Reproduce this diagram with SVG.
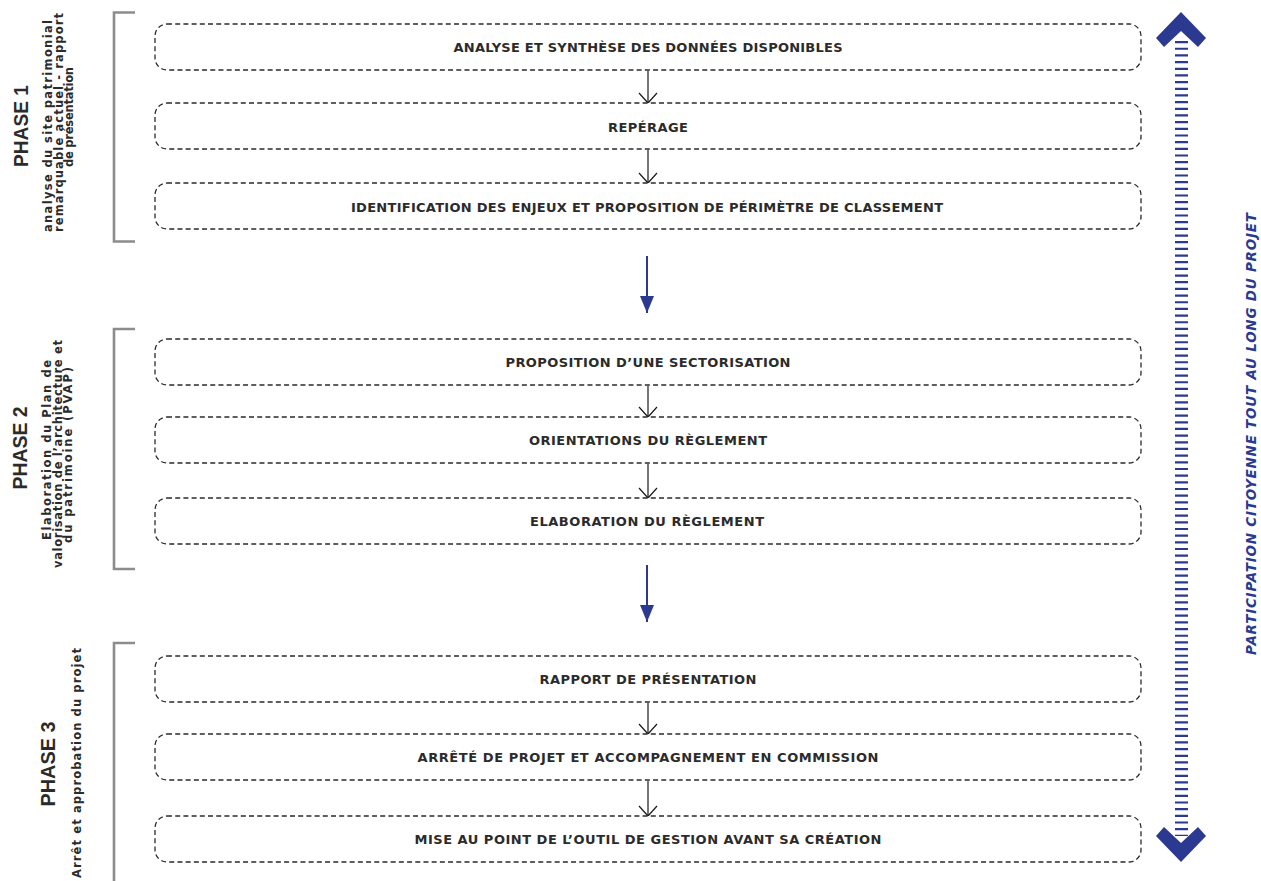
<svg xmlns="http://www.w3.org/2000/svg" width="1261" height="881" viewBox="0 0 1261 881">
<defs>
<style>
.box{fill:#fff;stroke:#2a2a2a;stroke-width:1.3;stroke-dasharray:5 3.2}
.lbl{font-family:"DejaVu Sans","Liberation Sans",sans-serif;font-weight:bold;font-size:13px;fill:#2b2b2b;text-anchor:middle}
.ph{font-family:"Liberation Sans",Arial,sans-serif;font-weight:bold;font-size:19.5px;fill:#2b2b2b;text-anchor:middle}
.sub{font-family:"DejaVu Sans","Liberation Sans",sans-serif;font-weight:bold;font-size:11.5px;fill:#2b2b2b;text-anchor:middle}
.side{font-family:"DejaVu Sans","Liberation Sans",sans-serif;font-weight:bold;font-style:italic;font-size:13.5px;fill:#2b3990;text-anchor:middle}
.brk{fill:none;stroke:#8c8c8c;stroke-width:2.6}
.ka{fill:none;stroke:#1a1a1a;stroke-width:1.2}
.ba{stroke:#2b3990;stroke-width:2}
</style>
<marker id="open" viewBox="0 0 20 12" refX="10" refY="11" markerWidth="20" markerHeight="12" markerUnits="userSpaceOnUse" orient="0">
<path d="M1,1 L10,11 L19,1" fill="none" stroke="#1a1a1a" stroke-width="1.2"/>
</marker>
<marker id="blue" viewBox="0 0 14 17" refX="7" refY="17" markerWidth="14" markerHeight="17" markerUnits="userSpaceOnUse" orient="0">
<path d="M0,0 L14,0 L7,17 Z" fill="#2b3990"/>
</marker>
</defs>
<rect width="1261" height="881" fill="#fff"/>

<g id="brackets">
<path class="brk" d="M135,12.5 H114 V241.5 H135"/>
<path class="brk" d="M135,329 H114 V569 H135"/>
<path class="brk" d="M135,643 H114 V881"/>
</g>

<g id="phase1">
<text class="ph" transform="translate(28,126) rotate(-90)" textLength="82" lengthAdjust="spacingAndGlyphs">PHASE 1</text>
<text class="sub" transform="translate(51.5,126) rotate(-90)" textLength="212" lengthAdjust="spacing">analyse du site patrimonial</text>
<text class="sub" transform="translate(62.5,122.5) rotate(-90)" textLength="219" lengthAdjust="spacing">remarquable actuel - rapport</text>
<text class="sub" transform="translate(73,117) rotate(-90)" textLength="100" lengthAdjust="spacing">de présentation</text>
</g>
<g id="phase2">
<text class="ph" transform="translate(27,448) rotate(-90)" textLength="83" lengthAdjust="spacingAndGlyphs">PHASE 2</text>
<text class="sub" transform="translate(50.5,450) rotate(-90)" textLength="180" lengthAdjust="spacing">Elaboration du Plan de</text>
<text class="sub" transform="translate(61.5,454) rotate(-90)" textLength="228" lengthAdjust="spacing">valorisation de l’architecture et</text>
<text class="sub" transform="translate(72,455) rotate(-90)" textLength="176" lengthAdjust="spacing">du patrimoine (PVAP)</text>
</g>
<g id="phase3">
<text class="ph" transform="translate(55,764) rotate(-90)" textLength="85" lengthAdjust="spacingAndGlyphs">PHASE 3</text>
<text class="sub" transform="translate(80.5,763) rotate(-90)" textLength="230" lengthAdjust="spacing">Arrêt et approbation du projet</text>
</g>

<g id="connectors">
<line class="ka" x1="648" y1="71" x2="648" y2="103" marker-end="url(#open)"/>
<line class="ka" x1="648" y1="150" x2="648" y2="183" marker-end="url(#open)"/>
<line class="ka" x1="648" y1="386" x2="648" y2="417" marker-end="url(#open)"/>
<line class="ka" x1="648" y1="464" x2="648" y2="498" marker-end="url(#open)"/>
<line class="ka" x1="648" y1="703" x2="648" y2="734" marker-end="url(#open)"/>
<line class="ka" x1="648" y1="781" x2="648" y2="816" marker-end="url(#open)"/>
<line class="ba" x1="647" y1="256" x2="647" y2="313" marker-end="url(#blue)"/>
<line class="ba" x1="647" y1="565" x2="647" y2="622" marker-end="url(#blue)"/>
</g>

<g id="n1"><rect class="box" x="155" y="24" width="986" height="46" rx="12"/><text class="lbl" x="648" y="51.5" textLength="389" lengthAdjust="spacing">ANALYSE ET SYNTHÈSE DES DONNÉES DISPONIBLES</text></g>
<g id="n2"><rect class="box" x="155" y="103" width="986" height="46" rx="12"/><text class="lbl" x="648" y="131.5" textLength="80" lengthAdjust="spacing">REPÉRAGE</text></g>
<g id="n3"><rect class="box" x="155" y="183" width="986" height="46" rx="12"/><text class="lbl" x="647" y="211.5" textLength="592" lengthAdjust="spacing">IDENTIFICATION DES ENJEUX ET PROPOSITION DE PÉRIMÈTRE DE CLASSEMENT</text></g>
<g id="n4"><rect class="box" x="155" y="339" width="986" height="46" rx="12"/><text class="lbl" x="648" y="366.5" textLength="285" lengthAdjust="spacing">PROPOSITION D’UNE SECTORISATION</text></g>
<g id="n5"><rect class="box" x="155" y="417" width="986" height="46" rx="12"/><text class="lbl" x="648" y="444.5" textLength="238" lengthAdjust="spacing">ORIENTATIONS DU RÈGLEMENT</text></g>
<g id="n6"><rect class="box" x="155" y="498" width="986" height="46" rx="12"/><text class="lbl" x="647" y="525.5" textLength="234" lengthAdjust="spacing">ELABORATION DU RÈGLEMENT</text></g>
<g id="n7"><rect class="box" x="155" y="656" width="986" height="46" rx="12"/><text class="lbl" x="648" y="683.5" textLength="217" lengthAdjust="spacing">RAPPORT DE PRÉSENTATION</text></g>
<g id="n8"><rect class="box" x="155" y="734" width="986" height="46" rx="12"/><text class="lbl" x="648" y="761.5" textLength="461" lengthAdjust="spacing">ARRÊTÉ DE PROJET ET ACCOMPAGNEMENT EN COMMISSION</text></g>
<g id="n9"><rect class="box" x="155" y="816" width="986" height="46" rx="12"/><text class="lbl" x="648" y="843.5" textLength="467" lengthAdjust="spacing">MISE AU POINT DE L’OUTIL DE GESTION AVANT SA CRÉATION</text></g>

<g id="participation">
<line x1="1181.5" y1="41" x2="1181.5" y2="836" stroke="#2b3990" stroke-width="13" stroke-dasharray="2.2 4.47"/>
<polygon points="1181,12 1206,38 1198,47 1181,31 1164,47 1156,38" fill="#2b3990"/>
<polygon points="1181,862 1206,836 1198,827 1181,843 1164,827 1156,836" fill="#2b3990"/>
<text class="side" transform="translate(1256,434) rotate(-90)" textLength="442" lengthAdjust="spacing">PARTICIPATION CITOYENNE TOUT AU LONG DU PROJET</text>
</g>
</svg>
